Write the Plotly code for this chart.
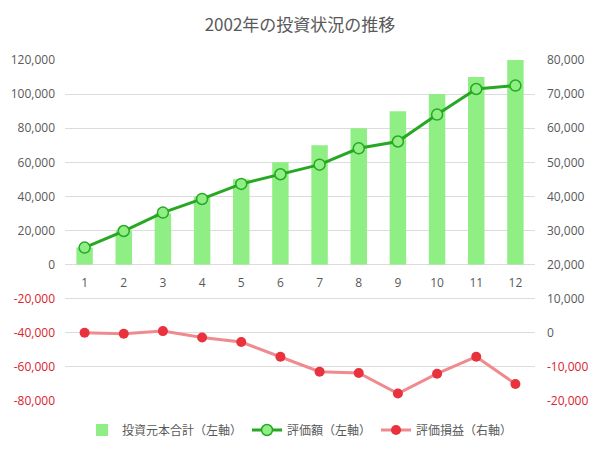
import plotly.graph_objects as go

months = [str(i) for i in range(1, 13)]
principal = [10000, 20000, 30000, 40000, 50000, 60000, 70000, 80000, 90000, 100000, 110000, 120000]
valuation = [10000, 19700, 30500, 38500, 47300, 53000, 58600, 68200, 72200, 88000, 103000, 105000]
profit = [0, -300, 500, -1400, -2700, -7000, -11400, -11800, -17800, -12000, -7000, -15000]

left_ticks = list(range(-80000, 120001, 20000))
right_ticks = list(range(-20000, 80001, 10000))

GRAY = "#595959"
RED = "#d9232e"

def fmt(v):
    s = f"{v:,}"
    if v < 0:
        return f"<span style='color:{RED}'>{s}</span>"
    return s

fig = go.Figure()
fig.add_trace(go.Bar(
    x=months, y=principal, name="投資元本合計（左軸）",
    marker=dict(color="#8fef84", line=dict(width=0)), width=0.42,
    yaxis="y",
))
fig.add_trace(go.Scatter(
    x=months, y=valuation, name="評価額（左軸）", mode="lines+markers",
    line=dict(color="#27a822", width=3),
    marker=dict(symbol="circle", size=11, color="#8fef84", line=dict(color="#27a822", width=1.5)),
    yaxis="y",
))
fig.add_trace(go.Scatter(
    x=months, y=profit, name="評価損益（右軸）", mode="lines+markers",
    line=dict(color="#ef8a8f", width=3),
    marker=dict(symbol="circle", size=10, color="#e8323d"),
    yaxis="y2",
))

fig.update_layout(
    width=600, height=450,
    margin=dict(l=65, r=65, t=60, b=49, autoexpand=False),
    paper_bgcolor="white", plot_bgcolor="white",
    font=dict(family="Open Sans, Noto Sans CJK JP", size=12, color=GRAY),
    title=dict(text="2002年の投資状況の推移", x=0.5, xanchor="center", y=0.945, yanchor="middle",
               font=dict(family="Noto Sans CJK JP", size=17, color=GRAY)),
    xaxis=dict(type="category", range=[-0.5, 11.5], anchor="free", position=0.4, showgrid=False,
               showline=False, zeroline=False, ticks="", automargin=False, ticklabelstandoff=9,
               tickfont=dict(size=12, color=GRAY)),
    yaxis=dict(range=[-80000, 120000], tickvals=left_ticks, ticktext=[fmt(v) for v in left_ticks],
               showgrid=True, gridcolor="#dcdcdc", gridwidth=1, zeroline=False, showline=False,
               ticks="", automargin=False, ticklabelstandoff=9, tickfont=dict(size=12, color=GRAY)),
    yaxis2=dict(range=[-20000, 80000], tickvals=right_ticks, ticktext=[fmt(v) for v in right_ticks],
                overlaying="y", side="right", showgrid=False, zeroline=False, showline=False,
                ticks="", automargin=False, ticklabelstandoff=11, tickfont=dict(size=12, color=GRAY)),
    showlegend=True,
    legend=dict(orientation="h", x=0.5, xanchor="center", y=-0.085, yanchor="middle",
                font=dict(family="Noto Sans CJK JP", size=12, color=GRAY), itemwidth=30),
)

fig.write_html("out.html")
